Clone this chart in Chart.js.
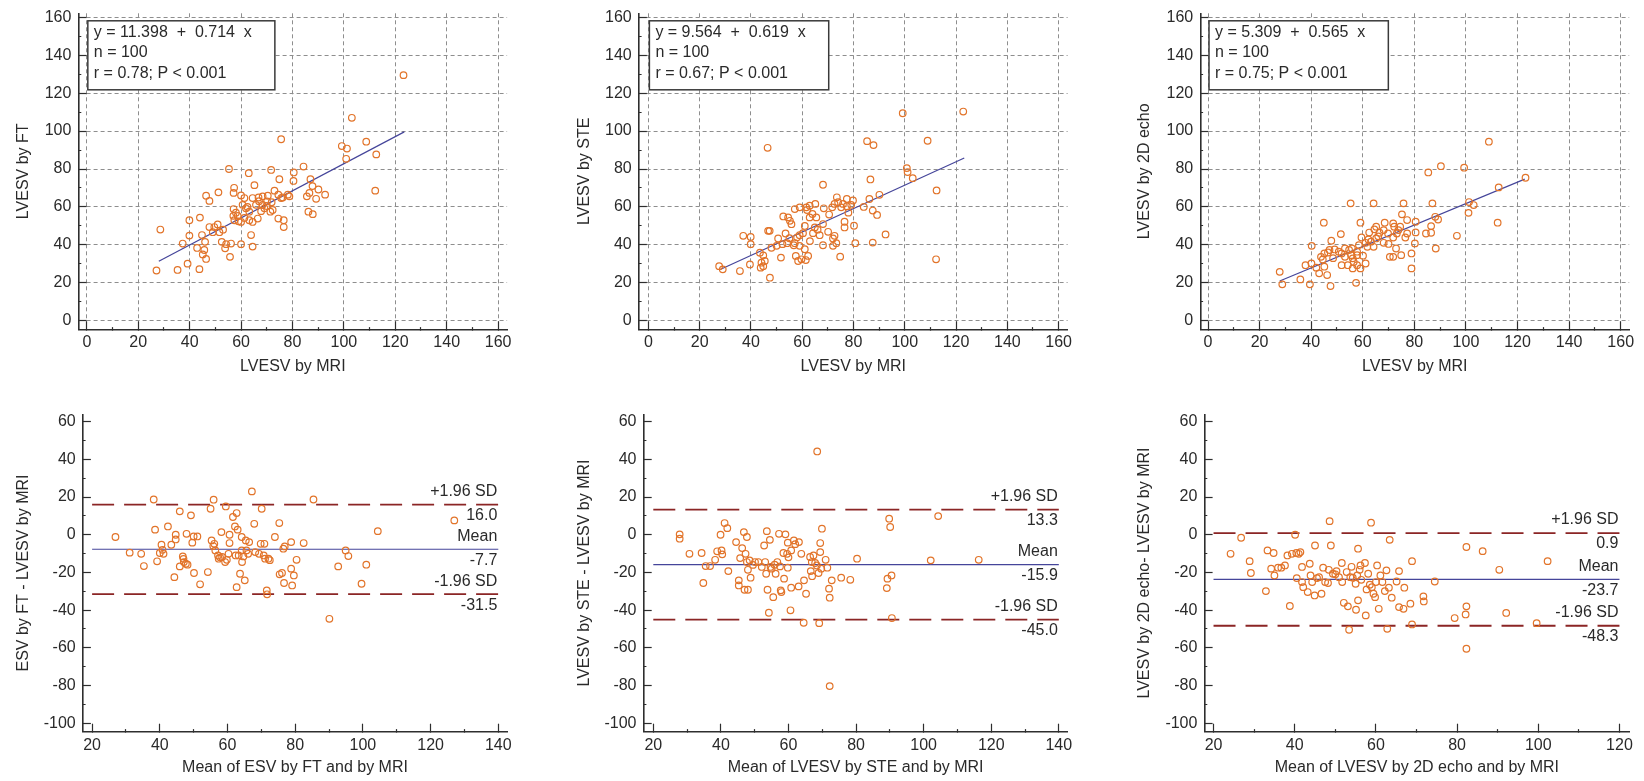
<!DOCTYPE html>
<html>
<head>
<meta charset="utf-8">
<script src="https://cdn.jsdelivr.net/npm/chart.js@4.4.1/dist/chart.umd.min.js"></script>
<style>
    html, body { margin: 0; padding: 0; background: #fff; }
    body { width: 1644px; height: 781px; position: relative; overflow: hidden; }
</style>
</head>
<body>
<script>
// ---- correlation: LVESV by FT vs MRI ----
const ftMriX = [123.2,103.1,75.6,99.2,101.2,108.7,112.6,100.9,112.2,55.3,63.0,71.7,84.3,80.5,80.4,74.9,87.0,65.2,87.8,90.1,
    92.7,89.2,85.6,86.6,57.3,57.1,51.2,46.4,47.7,60.0,61.3,64.5,66.8,68.4,70.4,73.0,74.5,76.2,78.2,78.8,
    60.6,61.9,68.4,70.1,71.9,71.4,67.8,57.1,57.0,59.0,60.0,63.2,64.5,66.5,61.3,86.2,87.9,74.5,76.6,76.6,
    50.9,49.6,47.7,39.9,44.0,28.6,44.8,39.9,37.3,42.9,46.0,45.7,45.1,46.4,39.2,35.3,43.8,27.1,52.5,53.8,
    55.7,56.1,60.0,64.5,63.9,54.2,63.2,69.1,57.4,51.6,58.7,72.3,65.8,75.6,49.0,62.5,67.0,53.0,70.0,58.0];
const ftY = [129.5,107.0,95.7,92.1,90.8,94.4,87.7,85.4,68.6,80.0,77.8,79.5,81.3,78.2,73.7,74.6,74.6,71.5,71.0,69.2,
    66.5,64.3,65.6,67.4,70.1,67.4,67.7,65.9,63.2,66.1,64.7,64.7,65.0,65.6,65.9,68.6,66.5,65.0,66.5,65.6,
    61.1,59.3,61.1,62.9,62.5,57.5,57.8,58.9,55.3,52.4,52.1,53.0,52.1,53.9,54.2,57.5,56.2,53.9,53.0,49.4,
    50.8,49.4,49.4,53.0,54.4,48.1,45.2,44.9,40.7,38.4,41.6,37.3,35.0,32.6,30.1,26.8,27.2,26.5,41.6,38.2,
    33.7,40.7,40.4,39.1,45.2,40.4,57.5,59.3,53.0,46.7,55.3,58.4,61.1,64.7,46.7,60.0,63.0,48.0,60.5,57.0];
const ftFitX = [28.0, 123.5];
const ftFitY = [31.4, 99.6];
const ftStats = ['y = 11.398  +  0.714  x', 'n = 100', 'r = 0.78; P < 0.001'];

// ---- correlation: LVESV by STE vs MRI ----
const steMriX = [99.2,122.8,46.5,85.3,87.8,108.9,100.8,101.1,103.1,112.4,112.2,86.6,68.1,90.1,86.2,87.5,89.2,79.8,77.4,79.1,
    75.9,73.5,72.6,71.7,77.4,75.2,65.1,62.9,59.0,61.6,61.9,64.0,65.5,62.9,57.1,68.4,52.6,54.5,55.8,55.2,
    46.7,47.3,37.0,39.9,39.9,50.6,54.1,52.3,57.1,60.3,59.0,64.2,64.9,66.8,68.1,70.1,72.0,72.6,73.3,76.5,
    76.5,80.2,80.7,87.5,92.5,68.1,72.0,74.8,51.7,56.7,59.0,61.0,57.5,59.7,61.4,62.3,58.4,43.5,44.8,44.1,
    45.4,43.8,44.8,39.6,35.7,47.4,27.6,29.0,50.0,74.0,66.0,63.0,55.0,70.5,78.0,58.0,48.0,84.0,61.0,53.5];
const steY = [109.4,110.3,91.2,94.7,92.6,94.9,80.5,78.4,75.2,68.7,32.4,74.5,71.7,66.4,64.2,58.1,55.8,63.4,64.2,61.1,
    61.6,65.1,61.6,59.8,60.4,59.8,61.6,60.7,59.8,59.8,58.4,56.3,54.5,54.5,58.9,59.3,55.0,54.5,50.9,52.7,
    47.4,47.4,44.8,44.2,40.4,43.4,40.9,40.4,40.9,46.2,45.1,46.2,49.2,45.1,51.0,46.9,43.4,44.8,40.9,52.2,
    49.2,50.1,40.9,41.2,45.5,39.8,39.5,33.8,33.3,39.8,39.5,37.7,34.2,32.4,32.0,34.2,31.5,35.9,34.5,30.6,
    31.5,28.0,28.8,29.7,26.2,22.7,28.8,27.1,39.5,62.5,48.0,42.0,43.5,56.0,57.0,44.0,38.5,60.0,50.0,46.0];
const steFitX = [28.0, 123.2];
const steFitY = [27.0, 85.8];
const steStats = ['y = 9.564  +  0.619  x', 'n = 100', 'r = 0.67; P < 0.001'];

// ---- correlation: LVESV by 2D echo vs MRI ----
const echoMriX = [108.9,90.3,99.3,85.4,123.1,112.7,101.2,103.0,101.0,112.3,55.3,64.2,75.8,87.0,75.2,77.2,80.5,88.1,89.2,86.5,
    84.5,86.5,80.5,96.5,88.3,80.2,78.9,78.9,71.8,72.2,73.8,68.5,68.1,65.2,64.5,66.5,65.2,64.2,63.2,61.1,
    59.1,59.5,62.2,68.1,71.8,73.2,76.5,72.9,70.5,71.8,74.9,44.9,51.5,47.8,40.2,37.8,40.1,35.8,39.5,47.5,
    27.8,28.8,43.8,45.1,46.5,43.1,46.2,45.1,44.5,51.8,53.1,51.8,54.2,56.1,56.1,57.8,59.1,61.1,57.4,55.8,
    54.7,57.8,58.5,57.8,60.1,61.8,55.5,53.1,49.1,47.1,50.7,69.8,74.5,77.2,66.0,62.5,70.0,56.5,48.5,42.0];
const echoY = [94.4,81.5,80.7,78.2,75.4,70.3,62.6,61.0,56.9,51.7,61.9,61.9,61.9,61.9,56.1,53.1,52.2,54.8,53.4,49.9,
    46.0,46.4,46.6,44.8,38.1,40.8,35.5,27.6,51.3,49.6,47.8,51.7,47.8,49.6,48.2,46.4,43.4,39.0,41.7,41.1,
    51.7,43.9,42.9,41.1,43.9,46.0,43.9,38.1,33.7,33.7,34.6,51.7,45.7,42.2,39.5,29.3,30.2,21.8,19.2,18.3,
    25.8,19.2,33.7,35.5,36.0,25.0,24.1,28.5,32.3,35.5,33.7,29.3,29.3,32.9,27.6,29.3,27.6,30.2,20.0,38.1,
    37.3,36.4,39.9,34.6,34.3,39.0,34.6,38.1,37.6,37.3,36.4,46.0,49.6,46.0,44.5,46.5,40.5,31.0,33.0,28.0];
const echoFitX = [27.8, 122.8];
const echoFitY = [21.0, 74.7];
const echoStats = ['y = 5.309  +  0.565  x', 'n = 100', 'r = 0.75; P < 0.001'];

// ---- Bland-Altman: FT ----
const ftMean = [26.9,31.1,34.5,35.3,38.2,38.6,39.2,40.0,40.5,40.8,41.1,42.4,43.4,44.3,44.7,44.7,45.9,45.9,46.8,47.1,
    47.7,47.9,48.2,49.2,49.6,50.0,50.1,51.1,51.9,54.2,55.0,55.9,55.3,55.8,56.4,57.2,57.4,58.2,58.4,59.5,
    59.8,60.3,60.6,60.6,61.6,62.2,62.7,63.0,62.7,63.3,63.7,64.2,64.2,64.3,64.7,65.1,65.4,66.1,66.4,67.2,
    67.9,68.2,69.3,69.8,70.1,70.7,70.9,71.1,71.6,71.7,72.1,74.0,75.3,75.4,76.1,76.5,76.7,76.9,78.8,78.8,
    79.1,79.6,80.4,82.5,85.4,90.1,92.7,94.9,95.7,99.6,101.0,104.4,127.0,56.1,62.4,59.3,65.6,57.8,47.0,72.5];
const ftDiff = [-1.2,-9.5,-10.1,-16.6,18.7,2.7,-14.1,-9.7,-5.3,-8.0,-10.1,4.4,-5.3,-22.5,0,-2.5,12.4,-16.8,-11.5,-14.5,
    -15.4,0.5,-15.9,10.3,-4.2,-0.9,-20.3,-0.9,-26.3,-19.8,13.8,18.6,-3.0,-6.0,-8.3,-11.0,-12.7,1.4,-11.8,15.0,
    -13.3,-10.1,0,-4.4,9.4,4.4,11.5,2.7,-27.8,-11.0,-20.7,-1.2,-8.3,-14.5,-11.5,-24.2,-3.0,-10.1,-3.9,23.0,
    5.8,-9.2,-10.1,-4.8,13.8,-11.0,-4.8,-12.7,-29.5,-31.6,-12.7,-1.2,6.2,-21.0,-20.3,-7.4,-25.6,-6.2,-3.9,-18.0,
    -26.9,-21.6,-13.3,-4.4,18.7,-44.6,-16.8,-8.3,-11.3,-26.0,-15.9,1.9,7.6,-4.8,-11.0,-14.5,-8.3,-12.0,-12.8,-13.5];
const ftLimits = [16.0, -7.7, -31.5];   // +1.96 SD, mean, -1.96 SD
const ftLineX = [20, 140];

// ---- Bland-Altman: STE ----
const steMean = [68.5,72.2,27.8,27.8,30.7,34.3,34.8,35.5,36.8,38.3,38.9,39.9,40.2,40.4,41.1,41.9,42.2,44.5,45.3,45.3,
    45.7,46.3,46.8,47.0,47.3,47.7,47.7,48.0,48.0,48.5,48.8,50.1,51.1,52.1,52.8,53.1,53.4,53.6,53.8,54.2,
    54.5,54.7,55.5,55.9,56.2,56.7,57.2,57.5,57.7,57.9,58.5,58.7,59.1,59.6,59.8,59.8,60.6,60.8,60.8,61.6,
    63.0,63.1,63.8,64.6,64.5,65.2,66.4,66.6,66.9,67.4,67.9,68.4,68.9,69.1,69.4,69.4,69.7,69.9,71.0,71.5,
    72.0,72.2,72.8,75.6,78.3,80.3,89.1,89.3,89.8,90.1,90.5,90.6,102.1,104.3,116.3,60.0,55.0,49.5,62.0,67.0];
const steDiff = [44.2,-80.3,0.2,-2.1,-10.1,-9.7,-25.6,-16.6,-16.6,-13.3,-8.8,0,-8.3,-10.4,6.2,3.5,-19.3,-3.9,-24.2,-26.9,
    -12.4,-7.1,1.4,-29.2,-10.1,-1.2,-14.5,-29.2,-18.6,-13.6,-22.8,-14.5,-14.5,-17.1,-5.7,-14.5,-20.7,1.9,-29.2,-41.4,
    -2.7,-17.1,-33.1,-15.9,-20.7,-14.5,0.5,-16.8,-29.5,-30.4,-9.7,-23.3,0.2,-10.1,-4.2,-17.5,-40.1,-8.3,-28.1,-3.0,
    -27.4,-3.9,-10.1,-24.2,-46.7,-31.3,-11.8,-19.3,-14.5,-11.0,-15.0,-16.3,-20.3,-46.9,-4.4,-9.2,-18.0,3.2,-13.3,-17.5,
    -28.6,-33.4,-24.2,-22.8,-23.9,-12.7,-28.3,-23.3,8.5,4.1,-21.6,-44.2,-13.6,9.9,-13.3,-12.0,-18.0,-16.0,-5.0,-22.0];
const steLimits = [13.3, -15.9, -45.0];
const steLineX = [20, 140];

// ---- Bland-Altman: 2D echo ----
const echoMean = [24.2,26.8,28.9,29.2,32.9,33.3,34.2,34.8,35.0,35.9,36.7,37.6,38.2,38.8,39.3,40.1,40.4,40.5,41.0,41.4,
    41.8,41.8,42.1,43.2,43.7,43.9,44.3,44.9,45.0,46.0,46.6,47.0,47.5,48.2,48.4,48.6,48.9,49.4,50.3,50.9,
    51.6,51.7,52.1,52.8,53.1,53.4,53.7,54.3,55.0,55.1,55.4,55.6,55.6,56.0,56.2,56.4,57.3,57.5,57.7,58.1,
    58.8,59.0,59.4,59.8,60.3,60.0,60.7,61.1,61.6,62.2,62.6,62.8,63.2,63.4,63.9,65.1,65.7,65.7,66.8,67.0,
    68.5,68.9,68.9,71.7,71.8,74.5,79.4,82.3,82.3,82.1,82.3,86.3,90.4,92.1,99.6,102.3,50.0,54.0,45.5,58.5];
const echoDiff = [-10.1,-1.6,-14.0,-20.3,-29.9,-8.3,-18.0,-9.7,-21.6,-17.5,-17.5,-16.3,-11.0,-37.8,-10.1,0,-9.7,-23.0,-10.1,-9.2,
    -17.1,-25.1,-27.8,-30.4,-15.4,-21.6,-25.1,-32.2,-5.7,-22.5,-31.3,-17.5,-25.1,-25.6,-18.6,7.2,-5.7,-20.7,-19.3,-22.5,
    -15.0,-25.1,-36.1,-19.8,-38.0,-50.4,-22.5,-22.8,-26.0,-39.8,-21.6,-7.4,-34.8,-18.6,-16.3,-23.9,-15.0,-42.8,-29.0,-20.7,
    6.4,-27.8,-31.3,-33.1,-16.3,-25.1,-39.3,-21.6,-25.1,-29.9,-18.9,-49.9,-28.1,-2.7,-33.4,-24.8,-19.3,-38.4,-39.3,-28.1,
    -36.6,-14.0,-47.6,-32.7,-35.4,-24.8,-44.2,-6.5,-38.0,-42.3,-60.5,-8.7,-18.6,-41.5,-46.9,-14.0,-21.0,-17.0,-23.0,-26.5];
const echoLimits = [0.9, -23.7, -48.3];
const echoLineX = [20, 120];

const limitNames = ['+1.96 SD', 'Mean', '-1.96 SD'];

// ---- styling ----
const FONT = '"Liberation Sans", Arial, sans-serif';
const TEXT = '#2a2a2a';
const AXIS = '#2e2e2e';
const GRID = '#8e8e8e';
const ORANGE = '#E2742A';
const NAVY = '#45459A';
const DARKRED = '#8B2525';

Chart.defaults.font.family = FONT;

function pts(xs, ys) {
    return xs.map((x, i) => ({ x: x, y: ys[i] }));
}

const isMajor = (c) => c.tick && c.tick.value % 20 === 0;

function axis(a, horizontal) {
    return {
        type: 'linear',
        min: a.min,
        max: a.max,
        afterFit: (s) => {
            if (s.isHorizontal()) s.height = a.size; else s.width = a.size;
            // the plot area is fixed by layout padding only
            s.paddingTop = s.paddingBottom = s.paddingLeft = s.paddingRight = 0;
        },
        ticks: {
            stepSize: 10,
            includeBounds: false,
            autoSkip: false,
            maxRotation: 0,
            padding: horizontal ? 13.4 : 15.2,
            color: TEXT,
            font: { size: 16, lineHeight: 1 },
            callback: (v) => (v % 20 === 0 ? String(v) : '')
        },
        grid: {
            drawOnChartArea: a.grid,
            color: (c) => (isMajor(c) ? GRID : 'rgba(0,0,0,0)'),
            tickColor: AXIS,
            // tick marks point into the plot; minor ones are short
            tickLength: -8,
            tickWidth: 1.2,
            tickBorderDash: (c) => (isMajor(c) ? [] : (horizontal ? [3.5, 100] : [0, 5.3, 3.5, 100])),
            lineWidth: 1
        },
        border: { display: true, color: AXIS, width: 1.6, dash: [4, 3] },
        title: {
            display: true,
            text: a.title,
            color: TEXT,
            font: { size: 16 },
            padding: a.titlePad
        }
    };
}

// text box with regression equation
const statBox = {
    id: 'statBox',
    afterDatasetsDraw(chart, args, opts) {
        if (!opts.lines) return;
        const { ctx, chartArea, scales } = chart;
        ctx.save();
        ctx.font = '16px ' + FONT;
        const left = scales.x.getPixelForValue(0) + 1;
        const top = chartArea.top + 7.5;
        const w = Math.max(...opts.lines.map(t => ctx.measureText(t).width)) + 29;
        ctx.fillStyle = '#fff';
        ctx.fillRect(left, top, w, 69);
        ctx.strokeStyle = '#3a3a3a';
        ctx.lineWidth = 1.5;
        ctx.strokeRect(left, top, w, 69);
        ctx.fillStyle = TEXT;
        ctx.textAlign = 'left';
        ctx.textBaseline = 'middle';
        opts.lines.forEach((t, i) => ctx.fillText(t, left + 6, top + 12 + i * 20.2));
        ctx.restore();
    }
};

// labels on the Bland-Altman reference lines
const limitLabels = {
    id: 'limitLabels',
    afterDatasetsDraw(chart, args, opts) {
        if (!opts.values) return;
        const { ctx, scales } = chart;
        ctx.save();
        ctx.font = '16px ' + FONT;
        ctx.fillStyle = TEXT;
        ctx.textAlign = 'right';
        ctx.textBaseline = 'middle';
        const x = scales.x.getPixelForValue(opts.end) - 1;
        opts.values.forEach((v, i) => {
            const y = scales.y.getPixelForValue(v);
            ctx.fillText(limitNames[i], x, y - 13);
            ctx.fillText(v.toFixed(1), x, y + 11);
        });
        ctx.restore();
    }
};

function makePanel(p) {
    const canvas = document.createElement('canvas');
    canvas.width = p.box.w;
    canvas.height = p.box.h;
    canvas.style.cssText = `position:absolute;left:${p.box.x}px;top:${p.box.y}px;width:${p.box.w}px;height:${p.box.h}px;`;
    document.body.appendChild(canvas);

    const datasets = [{
        data: pts(p.xs, p.ys),
        pointStyle: 'circle',
        pointRadius: 3.3,
        pointHoverRadius: 3.3,
        borderWidth: 1.2,
        borderColor: ORANGE,
        backgroundColor: 'rgba(255,255,255,0)'
    }];

    if (p.fitX) {
        datasets.push({
            data: pts(p.fitX, p.fitY),
            showLine: true,
            pointRadius: 0,
            borderColor: NAVY,
            borderWidth: 1.2
        });
    }
    if (p.limits) {
        p.limits.forEach((v, i) => {
            datasets.push({
                data: [{ x: p.lineX[0], y: v }, { x: p.lineX[1], y: v }],
                showLine: true,
                pointRadius: 0,
                borderColor: i === 1 ? NAVY : DARKRED,
                borderWidth: i === 1 ? 1.2 : 1.8,
                borderDash: i === 1 ? [] : [22, 10]
            });
        });
    }

    new Chart(canvas.getContext('2d'), {
        type: 'scatter',
        data: { datasets: datasets },
        options: {
            responsive: false,
            animation: false,
            events: [],
            layout: { padding: { left: 0, top: p.padTop, right: p.padRight, bottom: 0 } },
            plugins: {
                legend: { display: false },
                tooltip: { enabled: false },
                statBox: { lines: p.stats },
                limitLabels: { values: p.limits, end: p.lineX ? p.lineX[1] : 0 }
            },
            scales: {
                x: axis(p.x, true),
                y: axis(p.y, false)
            }
        },
        plugins: [statBox, limitLabels]
    });
}

const topY = (pad) => ({ min: -4.5, max: 162.1, grid: true, titlePad: { top: pad, bottom: 0 } });
const botY = (pad) => ({ min: -104.5, max: 63.9, grid: false, titlePad: { top: pad, bottom: 0 } });

makePanel({
    box: { x: 0, y: 0, w: 548, h: 390 }, padTop: 13.3, padRight: 40.9,
    xs: ftMriX, ys: ftY, fitX: ftFitX, fitY: ftFitY, stats: ftStats,
    x: { min: -3.2, max: 163.5, size: 60.7, grid: true, title: 'LVESV by MRI', titlePad: { top: 0, bottom: 13.4 } },
    y: Object.assign(topY(14), { size: 78.6, title: 'LVESV by FT' })
});
makePanel({
    box: { x: 548, y: 0, w: 552, h: 390 }, padTop: 13.3, padRight: 32.4,
    xs: steMriX, ys: steY, fitX: steFitX, fitY: steFitY, stats: steStats,
    x: { min: -3.7, max: 163.5, size: 60.7, grid: true, title: 'LVESV by MRI', titlePad: { top: 0, bottom: 13.4 } },
    y: Object.assign(topY(26.6), { size: 90.9, title: 'LVESV by STE' })
});
makePanel({
    box: { x: 1100, y: 0, w: 544, h: 390 }, padTop: 13.3, padRight: 14.8,
    xs: echoMriX, ys: echoY, fitX: echoFitX, fitY: echoFitY, stats: echoStats,
    x: { min: -2.95, max: 163.3, size: 60.7, grid: true, title: 'LVESV by MRI', titlePad: { top: 0, bottom: 13.4 } },
    y: Object.assign(topY(34.5), { size: 100.4, title: 'LVESV by 2D echo' })
});
makePanel({
    box: { x: 0, y: 390, w: 548, h: 391 }, padTop: 24.3, padRight: 40.9,
    xs: ftMean, ys: ftDiff, limits: ftLimits, lineX: ftLineX,
    x: { min: 17.28, max: 142.6, size: 49.3, grid: false, title: 'Mean of ESV by FT and by MRI', titlePad: { top: 0, bottom: 3.4 } },
    y: Object.assign(botY(14), { size: 82.9, title: 'ESV by FT - LVESV by MRI' })
});
makePanel({
    box: { x: 548, y: 390, w: 552, h: 391 }, padTop: 24.3, padRight: 32.4,
    xs: steMean, ys: steDiff, limits: steLimits, lineX: steLineX,
    x: { min: 17.16, max: 142.6, size: 49.3, grid: false, title: 'Mean of LVESV by STE and by MRI', titlePad: { top: 0, bottom: 3.4 } },
    y: Object.assign(botY(27.3), { size: 95.7, title: 'LVESV by STE - LVESV by MRI' })
});
makePanel({
    box: { x: 1100, y: 390, w: 544, h: 391 }, padTop: 24.3, padRight: 14.8,
    xs: echoMean, ys: echoDiff, limits: echoLimits, lineX: echoLineX,
    x: { min: 17.8, max: 122.4, size: 49.3, grid: false, title: 'Mean of LVESV by 2D echo and by MRI', titlePad: { top: 0, bottom: 3.4 } },
    y: Object.assign(botY(34.5), { size: 104.6, title: 'LVESV by 2D echo- LVESV by MRI' })
});
</script>
</body>
</html>
